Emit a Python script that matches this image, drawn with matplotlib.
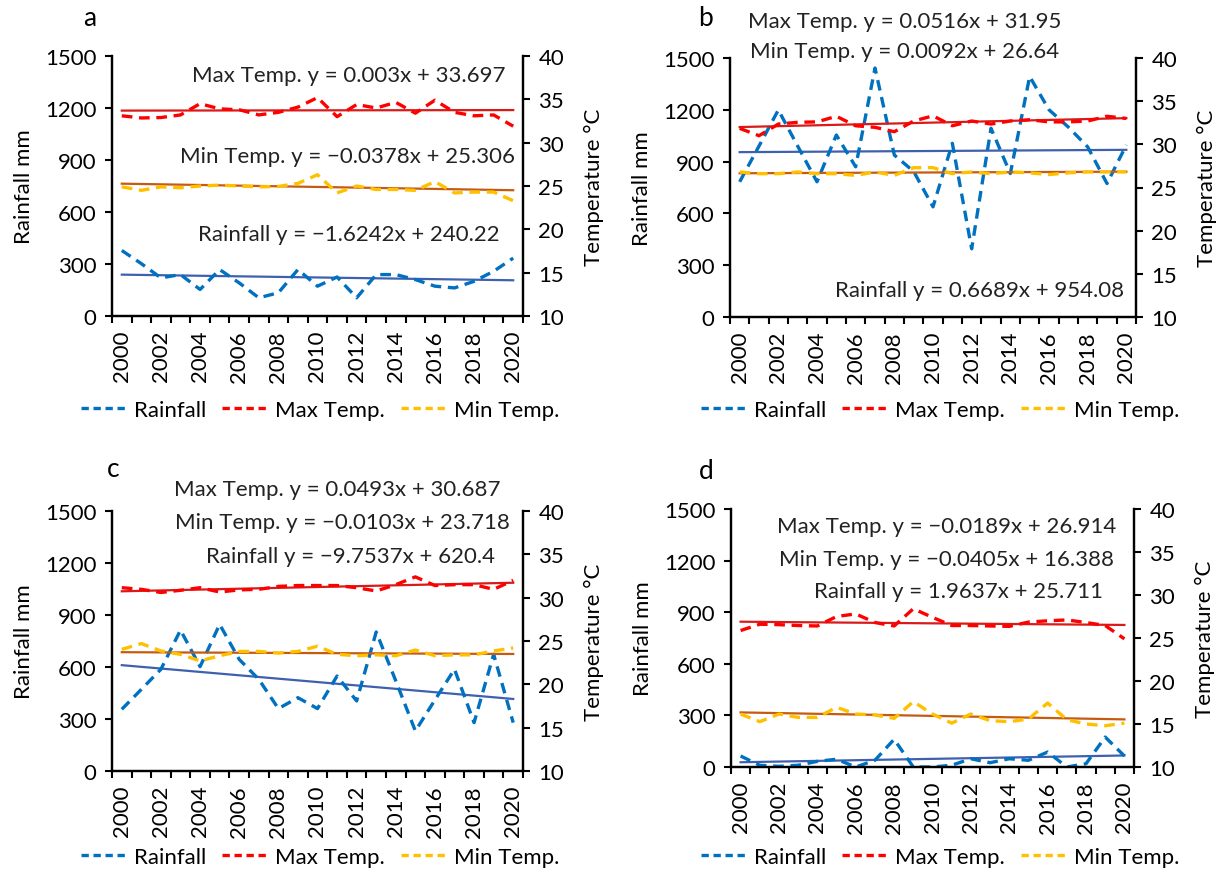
import matplotlib
matplotlib.use("Agg")
import matplotlib.pyplot as plt
from matplotlib.lines import Line2D
import numpy as np

plt.rcParams['font.family'] = ['Lato', 'DejaVu Sans']

years = list(range(2000, 2021))
year_labels = [str(y) for y in years[::2]]

# Panel a
rain_a = [378, 302, 220, 239, 153, 268, 191, 105, 134, 268, 172, 225, 105, 239, 239, 210, 172, 162, 200, 258, 334]
tmax_a = [33.1, 32.85, 32.9, 33.2, 34.5, 33.9, 33.8, 33.2, 33.5, 34.1, 35.2, 33.0, 34.4, 34.0, 34.65, 33.4, 34.9, 33.5, 33.1, 33.2, 31.9]
tmin_a = [24.9, 24.5, 24.9, 24.8, 25.0, 25.1, 25.0, 24.9, 24.95, 25.3, 26.3, 24.2, 25.0, 24.6, 24.6, 24.5, 25.5, 24.2, 24.3, 24.3, 23.3]

# Panel b
rain_b = [783, 990, 1199, 990, 783, 1054, 870, 1442, 938, 843, 638, 1006, 395, 1093, 831, 1393, 1200, 1100, 985, 773, 996]
tmax_b = [31.85, 31.0, 32.35, 32.55, 32.6, 33.25, 32.15, 31.97, 31.46, 32.7, 33.3, 32.15, 32.7, 32.35, 32.7, 32.85, 32.6, 32.6, 32.7, 33.25, 33.0]
tmin_b = [26.8, 26.6, 26.6, 26.8, 26.6, 26.6, 26.4, 26.8, 26.4, 27.3, 27.3, 26.6, 26.8, 26.6, 26.8, 26.7, 26.5, 26.7, 26.8, 26.8, 26.8]

# Panel c
rain_c = [356, 471, 587, 813, 602, 846, 644, 529, 360, 423, 360, 548, 404, 802, 520, 231, 410, 587, 279, 673, 279]
tmax_c = [31.15, 30.96, 30.6, 30.85, 31.15, 30.65, 30.9, 30.96, 31.3, 31.4, 31.4, 31.4, 31.15, 30.77, 31.5, 32.4, 31.4, 31.5, 31.5, 30.96, 32.0]
tmin_c = [24.04, 24.7, 23.85, 23.46, 22.7, 23.3, 23.8, 23.8, 23.6, 23.8, 24.4, 23.46, 23.3, 23.4, 23.3, 23.96, 23.3, 23.4, 23.4, 23.85, 24.2]

# Panel d
rain_d = [64, 10, 4, 10, 33, 45, 0, 39, 161, 0, 0, 10, 48, 25, 48, 39, 87, 0, 19, 174, 64]
tmax_d = [25.87, 26.6, 26.55, 26.45, 26.4, 27.5, 27.8, 26.8, 26.4, 28.4, 27.4, 26.45, 26.45, 26.4, 26.35, 26.85, 27.0, 27.1, 26.8, 26.45, 24.9]
tmin_d = [16.16, 15.27, 16.16, 15.77, 15.77, 16.94, 16.16, 16.05, 15.66, 17.6, 16.16, 15.1, 16.16, 15.39, 15.27, 15.58, 17.44, 15.5, 15.0, 14.8, 15.1]

# Linear trend coefficients (slope, intercept) for x = 1..21
trend_rain = {'a': (-1.6242, 240.22), 'b': (0.6689, 954.08), 'c': (-9.7537, 620.4), 'd': (1.9637, 25.711)}
trend_tmax = {'a': (0.003, 33.697), 'b': (0.0516, 31.95), 'c': (0.0493, 30.687), 'd': (-0.0189, 26.914)}
trend_tmin = {'a': (-0.0378, 25.306), 'b': (0.0092, 26.64), 'c': (-0.0103, 23.718), 'd': (-0.0405, 16.388)}

eq_rain = {'a': 'Rainfall y = \u22121.6242x + 240.22', 'b': 'Rainfall y = 0.6689x + 954.08',
           'c': 'Rainfall y = \u22129.7537x + 620.4', 'd': 'Rainfall y = 1.9637x + 25.711'}
eq_tmax = {'a': 'Max Temp. y = 0.003x + 33.697', 'b': 'Max Temp. y = 0.0516x + 31.95',
           'c': 'Max Temp. y = 0.0493x + 30.687', 'd': 'Max Temp. y = \u22120.0189x + 26.914'}
eq_tmin = {'a': 'Min Temp. y = \u22120.0378x + 25.306', 'b': 'Min Temp. y = 0.0092x + 26.64',
           'c': 'Min Temp. y = \u22120.0103x + 23.718', 'd': 'Min Temp. y = \u22120.0405x + 16.388'}

C_RAIN, C_TMAX, C_TMIN = '#0070C0', '#FF0000', '#FFC000'
C_TR_RAIN, C_TR_TMAX, C_TR_TMIN = '#3F5FAF', '#D91A1A', '#C55A11'

W, H = 1227, 879
fig = plt.figure(figsize=(W / 100, H / 100), dpi=100)


def px_rect(left, top, right, bottom):
    return [left / W, 1 - bottom / H, (right - left) / W, (bottom - top) / H]


# panel layout in pixels: (left, top, right, bottom)
boxes = {'a': (112, 57, 523, 317), 'b': (730, 59, 1136, 318),
         'c': (112, 512, 523, 772), 'd': (731, 510, 1134, 768)}
# equation text centres in pixels: (x, y) for max, min, rain
eq_pos = {'a': [(349, 76), (347, 157), (349, 235)],
          'b': [(905, 22), (905, 52), (980, 291)],
          'c': [(337, 490), (342, 523), (350, 557)],
          'd': [(947, 527), (947, 560), (958, 592)]}
letter_pos = {'a': (90, 18), 'b': (706, 18), 'c': (113, 470), 'd': (706, 472)}
legend_pos = {'a': (320, 411), 'b': (940, 411), 'c': (320, 858), 'd': (940, 858)}

series = {'a': (rain_a, tmax_a, tmin_a), 'b': (rain_b, tmax_b, tmin_b),
          'c': (rain_c, tmax_c, tmin_c), 'd': (rain_d, tmax_d, tmin_d)}

FS = 16
x = np.arange(len(years))
xt = x + 1  # trend variable 1..21
dash = (3.2, 2.0)

for key, (rain, tmax, tmin) in series.items():
    ax = fig.add_axes(px_rect(*boxes[key]))
    ax2 = ax.twinx()

    ax.plot(x, rain, color=C_RAIN, lw=2.4, ls=(0, dash), zorder=3)
    s, b = trend_rain[key]
    ax.plot(x, s * xt + b, color=C_TR_RAIN, lw=1.6, zorder=2)

    s, b = trend_tmax[key]
    ax2.plot(x, s * xt + b, color=C_TR_TMAX, lw=1.6, zorder=2)
    s, b = trend_tmin[key]
    ax2.plot(x, s * xt + b, color=C_TR_TMIN, lw=1.6, zorder=2)
    ax2.plot(x, tmax, color=C_TMAX, lw=2.4, ls=(0, dash), zorder=3)
    ax2.plot(x, tmin, color=C_TMIN, lw=2.4, ls=(0, dash), zorder=3)

    ax.set_xlim(-0.5, 20.5)
    ax.set_ylim(0, 1500)
    ax2.set_ylim(10, 40)
    ax.set_yticks(range(0, 1501, 300))
    ax2.set_yticks(range(10, 41, 5))
    ax.set_xticks(x[::2])
    ax.set_xticklabels(year_labels, rotation=90)
    ax.set_xticks(np.arange(-0.5, 21, 1), minor=True)
    ax.tick_params(axis='x', which='major', length=0, pad=10, labelsize=FS)
    ax.tick_params(axis='x', which='minor', length=5, width=1.5, direction='out')
    ax.tick_params(axis='y', length=5, width=1.5, labelsize=FS, pad=6)
    ax2.tick_params(axis='y', length=5, width=1.5, labelsize=FS, pad=6)

    for a in (ax, ax2):
        a.spines['top'].set_visible(False)
        for sp in ('left', 'right', 'bottom'):
            a.spines[sp].set_linewidth(1.6)
            a.spines[sp].set_color('black')
        a.patch.set_visible(False)

    ax.set_ylabel('Rainfall mm', fontsize=FS, labelpad=8)
    ax2.set_ylabel('Temperature \u00b0C', fontsize=FS, labelpad=14)

    texts = [eq_tmax[key], eq_tmin[key], eq_rain[key]]
    for t, (px, py) in zip(texts, eq_pos[key]):
        fig.text(px / W, 1 - py / H, t, fontsize=FS, ha='center', va='center', color='#222222')

    lx, ly = letter_pos[key]
    fig.text(lx / W, 1 - ly / H, key, fontsize=19, ha='center', va='center')

    handles = [Line2D([], [], color=c, lw=2.4, ls=(0, (2.2, 1.4))) for c in (C_RAIN, C_TMAX, C_TMIN)]
    gx, gy = legend_pos[key]
    fig.legend(handles, ['Rainfall', 'Max Temp.', 'Min Temp.'], loc='center',
               bbox_to_anchor=(gx / W, 1 - gy / H), ncol=3, frameon=False,
               fontsize=FS, handlelength=2.0, columnspacing=0.7, handletextpad=0.4)

fig.savefig('out.png', dpi=100)
